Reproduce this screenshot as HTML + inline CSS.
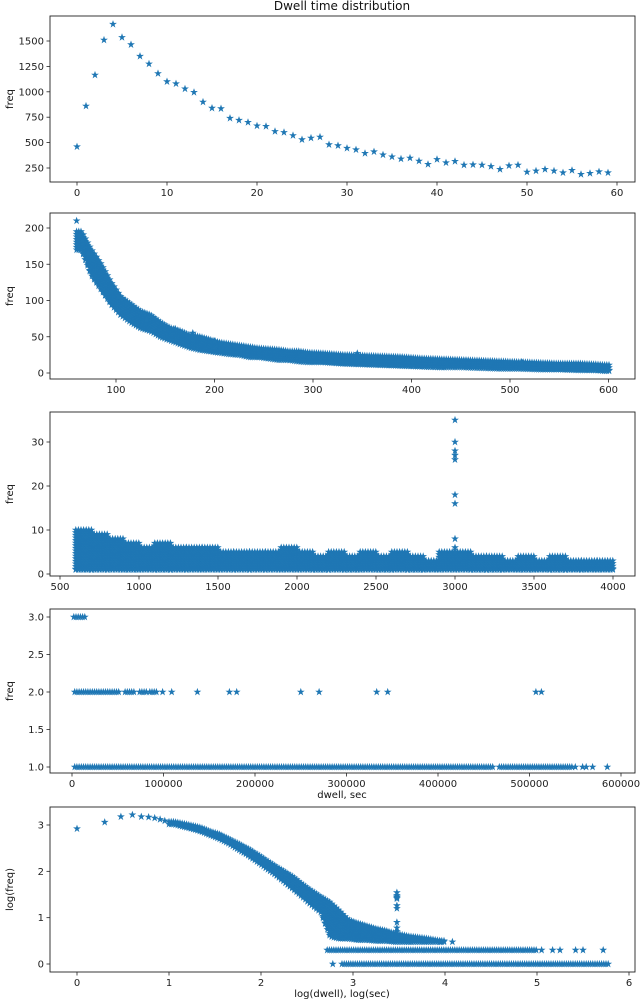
<!DOCTYPE html>
<html><head><meta charset="utf-8"><style>
html,body{margin:0;padding:0;background:#fff;}
svg{display:block;font-family:"DejaVu Sans","Liberation Sans",sans-serif;}
</style></head><body>
<svg id="fig" width="640" height="1004" viewBox="0 0 640 1004" xmlns="http://www.w3.org/2000/svg">
<defs><path id="star" d="M0,-4.1 L1.0,-1.3 3.9,-1.3 1.5,0.5 2.4,3.4 0,1.6 -2.4,3.4 -1.5,0.5 -3.9,-1.3 -1.0,-1.3Z" fill="#1f77b4"/></defs>
<text x="342" y="10" font-size="12" text-anchor="middle" fill="#111">Dwell time distribution</text>
</svg>
<script>
// ---- Panel 1 data ----
const p1X = [0,1,2,3,4,5,6,7,8,9,10,11,12,13,14,15,16,17,18,19,20,21,22,23,24,25,26,27,28,29,30,31,32,33,34,35,36,37,38,39,40,41,42,43,44,45,46,47,48,49,50,51,52,53,54,55,56,57,58,59];
const p1Y = [460,860,1165,1510,1665,1535,1465,1350,1275,1180,1100,1080,1030,995,900,840,835,740,720,700,665,660,610,600,570,530,545,555,480,470,445,430,395,410,380,360,340,348,319,286,335,302,316,280,282,280,266,237,273,280,211,221,237,221,204,227,188,198,214,204];
const p1XTicks = [0,10,20,30,40,50,60];
const p1YTicks = [250,500,750,1000,1250,1500];
// ---- Panel 2 data (bins: start, low, high) ----
const p2BinStart = [60,70,80,90,100,110,120,130,140,150,160,170,180,190,200,210,220,230,240,250,260,270,280,290,300,320,340,360,380,400,420,440,460,480,500,520,540,560,580,590,602];
const p2Low  = [170,135,115,95,80,70,62,58,50,45,40,35,32,30,28,26,25,22,22,20,18,18,16,15,15,13,12,11,10,9,8,8,7,6,6,5,5,4,4,3];
const p2High = [195,170,150,125,105,95,85,80,70,62,58,52,50,46,42,40,38,36,34,33,32,30,30,28,27,25,24,23,22,20,19,18,17,16,15,14,13,13,12,11];
const p2Outliers = [[60,210],[63,190],[66,183],[72,165],[102,106],[131,74],[160,61],[178,55],[200,44],[345,27],[512,15]];
const p2XTicks = [100,200,300,400,500,600];
const p2YTicks = [0,50,100,150,200];
// ---- Panel 3 data ----
const p3BinStart = [600,700,800,900,1000,1100,1200,1300,1400,1500,1600,1700,1800,1900,2000,2100,2200,2300,2400,2500,2600,2700,2800,2900,3000,3100,3200,3300,3400,3500,3600,3700,3800,3900,4000];
const p3High = [10,9,8,7,6,7,6,6,6,5,5,5,5,6,5,4,5,4,5,4,5,4,3,5,5,4,4,3,4,3,4,3,3,3];
const p3SpikeX = 3000;
const p3SpikeY = [35,30,28,27,26,18,16,8,6,5];
const p3XTicks = [500,1000,1500,2000,2500,3000,3500,4000];
const p3YTicks = [0,10,20,30];
// ---- Panel 4 data ----
const p4L1Ranges = [[3000,460000],[467000,547000]];
const p4L1Points = [550000,558000,562000,569000,585000];
const p4L2Ranges = [[3000,53000],[58000,70000],[74000,82000],[85000,93000]];
const p4L2Points = [99000,109000,137000,172000,180000,250000,270000,333000,345000,507000,513000];
const p4L3Ranges = [[2000,15000]];
const p4XTicks = [0,100000,200000,300000,400000,500000,600000];
const p4XLabels = ["0","100000","200000","300000","400000","500000","600000"];
const p4YTicks = [1.0,1.5,2.0,2.5,3.0];
// ---- Panel 5 data ----
const p5HeadX = [0,0.301,0.477,0.602,0.699,0.778,0.845,0.903,0.954];
const p5HeadY = [2.92,3.06,3.18,3.22,3.18,3.17,3.15,3.12,3.09];
const p5BinStart = [1.0,1.1,1.2,1.3,1.4,1.5,1.6,1.7,1.8,1.9,2.0,2.1,2.2,2.3,2.4,2.5,2.6,2.7,2.8,2.9,3.0,3.1,3.2,3.3,3.4,3.5,3.7,3.9,4.0];
const p5Low  = [3.02,2.97,2.92,2.86,2.78,2.70,2.60,2.48,2.36,2.22,2.08,1.94,1.78,1.62,1.45,1.28,1.12,0.6,0.55,0.55,0.52,0.52,0.5,0.5,0.48,0.48,0.48,0.48];
const p5High = [3.07,3.03,2.99,2.94,2.86,2.80,2.70,2.60,2.50,2.38,2.25,2.12,2.0,1.88,1.72,1.58,1.45,1.33,1.15,0.95,0.88,0.82,0.76,0.72,0.66,0.6,0.55,0.5];
const p5Lvl2Range = [2.72,5.0];
const p5Lvl2Points = [5.05,5.17,5.25,5.42,5.5,5.72];
const p5Lvl1Range = [2.88,5.78];
const p5Lvl1Points = [2.78];
const p5Lvl3Points = [3.95,4.08];
const p5SpikeX = 3.477;
const p5SpikeY = [1.54,1.48,1.45,1.43,1.41,1.26,1.2,0.9,0.78,0.7];
const p5XTicks = [0,1,2,3,4,5,6];
const p5YTicks = [0,1,2,3];

const NS = "http://www.w3.org/2000/svg";
const svg = document.getElementById('fig');
function lin(d0,d1,r0,r1){return v=>r0+(v-d0)*(r1-r0)/(d1-d0);}
function mk(tag,attrs,parent){const e=document.createElementNS(NS,tag);for(const k in attrs)e.setAttribute(k,attrs[k]);(parent||svg).appendChild(e);return e;}
function star(g,x,y){
  const u=mk('use',{href:'#star',x:x.toFixed(1),y:y.toFixed(1)},g);
  
  
}
function col(g,x,py0,py1){for(let y=py0;y<=py1+0.01;y+=2.6)star(g,x,y);star(g,x,py1);}
function fillBand(g,px0,px1,py0,py1){for(let x=px0;x<=px1+0.01;x+=2.6)col(g,x,py0,py1);}
// smooth band: interpolate low/high between bin centers
function smoothBand(g,starts,lo,hi,sx,sy){
  const c=[];for(let i=0;i<lo.length;i++)c.push((starts[i]+starts[i+1])/2);
  const x0=sx(starts[0]),x1=sx(starts[starts.length-1]);
  for(let px=x0;px<=x1;px+=2.2){
    let v=null;
    // find data value of px by inverse interpolation over pixel centers
    const pc=c.map(sx);
    let k=0;while(k<pc.length-2&&px>pc[k+1])k++;
    let t=(px-pc[k])/(pc[k+1]-pc[k]);t=Math.max(0,Math.min(1,t));
    if(px<pc[0])t=0; if(px>pc[pc.length-1]){k=pc.length-2;t=1;}
    const l=lo[k]+(lo[k+1]-lo[k])*t,h=hi[k]+(hi[k+1]-hi[k])*t;
    col(g,px,sy(h),sy(l));
  }
}
function axes(name,top,bot,sx,sy,xt,yt,xlab,ylab,xl,yl){
  const g=mk('g',{});
  
  
  xt.forEach((t,i)=>{const x=sx(t);mk('line',{x1:x,x2:x,y1:bot,y2:bot+3.5,stroke:'#222','stroke-width':0.8},g);
    const tx=mk('text',{x:x,y:bot+14,'font-size':10,'text-anchor':'middle',fill:'#222'},g);tx.textContent=xlab?xlab[i]:String(t);
    
    });
  yt.forEach((t,i)=>{const y=sy(t);mk('line',{x1:50,x2:46.5,y1:y,y2:y,stroke:'#222','stroke-width':0.8},g);
    const tx=mk('text',{x:44,y:y+3.5,'font-size':10,'text-anchor':'end',fill:'#222'},g);tx.textContent=ylab?ylab[i]:String(t);
    
    });
  const yl_=mk('text',{x:0,y:0,'font-size':10,'text-anchor':'middle',fill:'#111',transform:`translate(13,${(top+bot)/2}) rotate(-90)`},g);
  yl_.textContent=yl;
  
  
  if(xl){const t=mk('text',{x:342,y:bot+25,'font-size':10,'text-anchor':'middle',fill:'#111'},g);t.textContent=xl;
    
    }
  const d=mk('g',{});
  
  
  return {frame:()=>{const r=mk('rect',{x:50,y:top,width:585,height:bot-top,fill:'none',stroke:'#222','stroke-width':0.9});
    
    },d:d};
}
// Panel 1
{const sx=lin(0,60,77,617),sy=lin(250,1500,168,41);
 const a=axes('panel1',16,182,sx,sy,p1XTicks,p1YTicks,null,null,null,'freq');
 p1X.forEach((x,i)=>star(a.d,sx(x),sy(p1Y[i]))); a.frame();}
// Panel 2
{const sx=lin(100,600,116,608.5),sy=lin(0,200,373,228);
 const a=axes('panel2',213,379,sx,sy,p2XTicks,p2YTicks,null,null,null,'freq');
 smoothBand(a.d,p2BinStart,p2Low,p2High,sx,sy);
 p2Outliers.forEach(p=>star(a.d,sx(p[0]),sy(p[1]))); a.frame();}
// Panel 3
{const sx=lin(500,4000,60,613),sy=lin(0,30,574,442);
 const a=axes('panel3',412,576,sx,sy,p3XTicks,p3YTicks,null,null,null,'freq');
 for(let i=0;i<p3High.length;i++){fillBand(a.d,sx(p3BinStart[i]),sx(p3BinStart[i+1]),sy(p3High[i]),sy(1));}
 p3SpikeY.forEach(v=>star(a.d,sx(p3SpikeX),sy(v))); a.frame();}
// Panel 4
{const sx=lin(0,600000,72,621),sy=lin(1,3,767,617);
 const a=axes('panel4',609,773,sx,sy,p4XTicks,p4YTicks,p4XLabels,p4YTicks.map(v=>v.toFixed(1)),'dwell, sec','freq');
 const lv=(ranges,pts,val)=>{ranges.forEach(r=>{for(let x=sx(r[0]);x<=sx(r[1]);x+=2.2)star(a.d,x,sy(val));});pts.forEach(p=>star(a.d,sx(p),sy(val)));};
 lv(p4L1Ranges,p4L1Points,1);lv(p4L2Ranges,p4L2Points,2);lv(p4L3Ranges,[],3); a.frame();}
// Panel 5
{const sx=lin(0,6,77,629),sy=lin(0,3,964,825);
 const a=axes('panel5',807,972,sx,sy,p5XTicks,p5YTicks,null,null,'log(dwell), log(sec)','log(freq)');
 p5HeadX.forEach((x,i)=>star(a.d,sx(x),sy(p5HeadY[i])));
 smoothBand(a.d,p5BinStart,p5Low,p5High,sx,sy);
 const line=(r,pts,val)=>{if(r)for(let x=sx(r[0]);x<=sx(r[1]);x+=2.2)star(a.d,x,sy(val));pts.forEach(p=>star(a.d,sx(p),sy(val)));};
 line(p5Lvl2Range,p5Lvl2Points,Math.log10(2));line(p5Lvl1Range,p5Lvl1Points,0);line(null,p5Lvl3Points,Math.log10(3));
 p5SpikeY.forEach(v=>star(a.d,sx(p5SpikeX),sy(v))); a.frame();}
</script>
</body></html>
